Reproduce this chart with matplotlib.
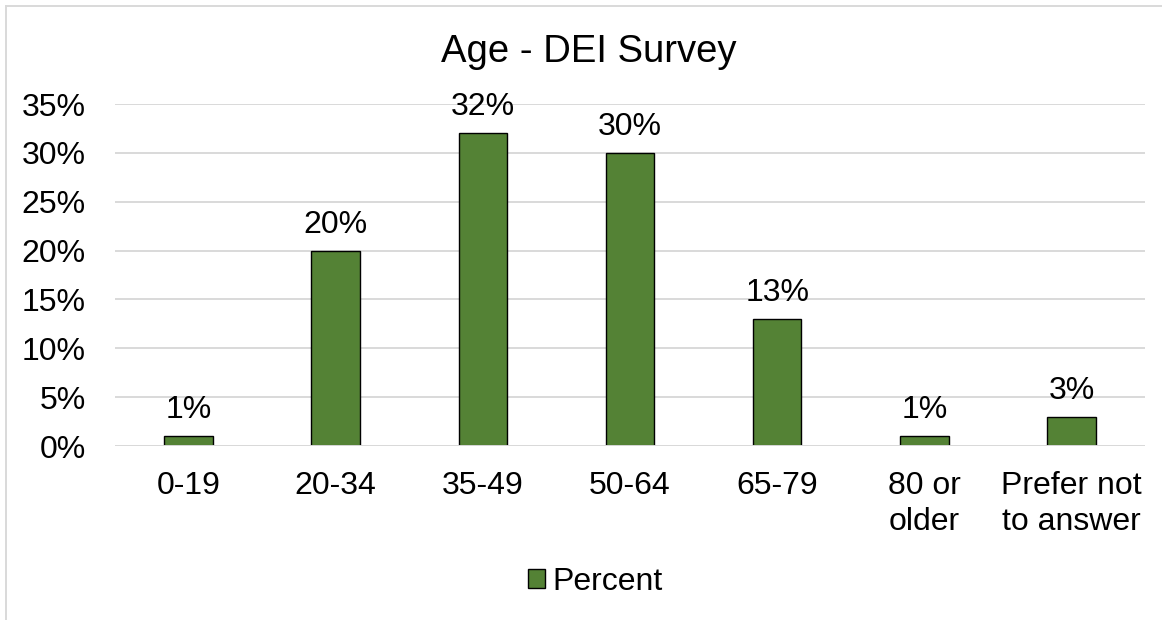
import matplotlib
matplotlib.use("Agg")
import matplotlib.pyplot as plt
from matplotlib.patches import Patch
from matplotlib.lines import Line2D

categories = ["0-19", "20-34", "35-49", "50-64", "65-79", "80 or\nolder", "Prefer not\nto answer"]
percent = [1, 20, 32, 30, 13, 1, 3]
yticks = [0, 5, 10, 15, 20, 25, 30, 35]
title = "Age - DEI Survey"
series_name = "Percent"

plt.rcParams['font.family'] = ['Liberation Sans', 'DejaVu Sans']
GREEN = "#548235"
GRID = "#D9D9D9"
FS = 23

W, H = 1162, 620
fig = plt.figure(figsize=(W / 100, H / 100), dpi=100)
ax = fig.add_axes([115 / W, 1 - 446 / H, (1145 - 115) / W, (446 - 104) / H])

x = list(range(len(categories)))
bars = ax.bar(x, percent, width=0.33, color=GREEN, edgecolor="black", linewidth=1.0, zorder=3)

for xi, v in zip(x, percent):
    ax.annotate(f"{v}%", (xi, v), xytext=(0, 13), textcoords="offset points",
                ha="center", va="baseline", fontsize=FS, color="black")

ax.set_xlim(-0.5, len(categories) - 0.5)
ax.set_ylim(0, 35)
ax.set_yticks(yticks)
ax.set_yticklabels([f"{t}%" for t in yticks])
ax.set_xticks(x)
ax.set_xticklabels(categories, linespacing=1.27)
ax.tick_params(axis="y", length=0, pad=21, labelsize=FS, colors="black")
ax.tick_params(axis="x", length=0, pad=18, labelsize=FS, colors="black")
ax.grid(axis="y", color=GRID, linewidth=1.4, zorder=0)
for s in ax.spines.values():
    s.set_visible(False)
ax.axhline(0, color=GRID, linewidth=1.4, zorder=4)

fig.text(589 / W, 1 - 62 / H, title, ha="center", va="baseline", fontsize=27.5, color="black")

handle = Patch(facecolor=GREEN, edgecolor="black", linewidth=1.0)
fig.legend([handle], [series_name], loc="center", bbox_to_anchor=(595 / W, 1 - 582 / H),
           frameon=False, fontsize=FS, handlelength=0.54, handleheight=0.54,
           handletextpad=0.22, borderpad=0, borderaxespad=0)

# chart frame lines (top and left visible in reference)
fig.add_artist(Line2D([5.5 / W, 5.5 / W], [0, 1 - 5.5 / H], transform=fig.transFigure, color=GRID, linewidth=1.4))
fig.add_artist(Line2D([5.5 / W, 1], [1 - 5.5 / H, 1 - 5.5 / H], transform=fig.transFigure, color=GRID, linewidth=1.4))

fig.savefig("out.png", dpi=100, facecolor="white")
